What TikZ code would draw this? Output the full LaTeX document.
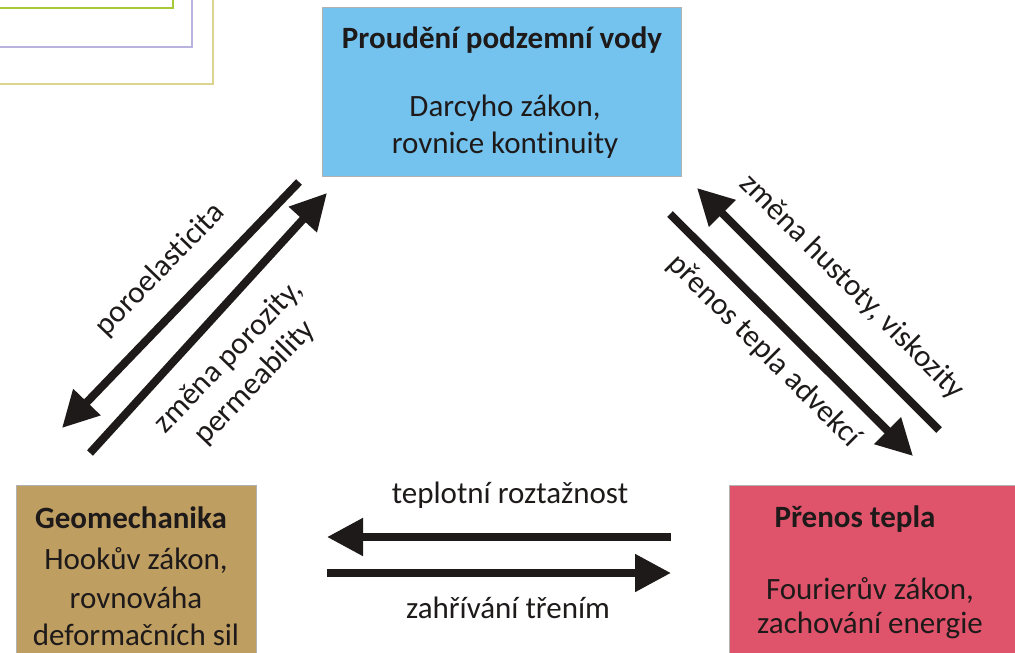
\documentclass[tikz,border=0pt]{standalone}
\usepackage{fontspec}
\setmainfont{Carlito}[Ligatures=NoCommon]
\usetikzlibrary{arrows.meta}
\definecolor{cblue}{HTML}{74C3EF}
\definecolor{cgeo}{HTML}{BF9E62}
\definecolor{cheat}{HTML}{E0546B}
\definecolor{cgreen}{HTML}{A8C83C}
\definecolor{cpurple}{HTML}{B8B2DE}
\definecolor{cyellow}{HTML}{DCD48E}
\definecolor{ink}{HTML}{1E1A1A}
\tikzset{
  box/.style={draw=black!30, line width=0.6pt, anchor=north west, inner sep=0pt},
  txt/.style={text=ink, font=\fontsize{31}{37}\selectfont, inner sep=0pt},
  ttl/.style={txt, font=\fontsize{31}{37}\selectfont\bfseries},
  lab/.style={text=ink, font=\fontsize{31}{37}\selectfont, inner sep=0pt, align=center},
  bigarrow/.style={line width=8pt, draw=ink, -{Triangle[length=36pt,width=36pt]}},
  frame/.style={line width=2pt}
}
\begin{document}
\begin{tikzpicture}[x=1pt,y=-1pt]
\useasboundingbox (0,0) rectangle (1015,653);
\fill[white] (0,0) rectangle (1015,653);
% partial frames top-left
\draw[frame, cgreen] (0,8) -- (173,8) -- (173,-2);
\draw[frame, cpurple] (0,47) -- (192,47) -- (192,-2);
\draw[frame, cyellow] (0,84) -- (213,84) -- (213,-2);
% boxes
\node[box, fill=cblue, minimum width=359pt, minimum height=169pt] (voda) at (322,7) {};
\node[box, fill=cgeo, minimum width=240pt, minimum height=175pt] (geo) at (16,485) {};
\node[box, fill=cheat, minimum width=290pt, minimum height=175pt] (teplo) at (729,485) {};
% box texts
\node[ttl] (vodaT) at (502,40) {Proudění podzemní vody};
\node[txt] (vodaA) at (505,108) {Darcyho zákon,};
\node[txt] (vodaB) at (505,145) {rovnice kontinuity};
\node[ttl] (geoT) at (131,518) {Geomechanika};
\node[txt] (geoA) at (136,560) {Hookův zákon,};
\node[txt] (geoB) at (136,598) {rovnováha};
\node[txt] (geoC) at (136,635) {deformačních sil};
\node[ttl] (teploT) at (855,519) {Přenos tepla};
\node[txt] (teploA) at (870,590) {Fourierův zákon,};
\node[txt] (teploB) at (870,625) {zachování energie};
% arrow endpoints
\coordinate (a1s) at (299,182);
\coordinate (a1e) at (62,428);
\coordinate (a2s) at (90,453);
\coordinate (a2e) at (327,193);
\coordinate (a3s) at (939,430);
\coordinate (a3e) at (697,188);
\coordinate (a4s) at (670,214);
\coordinate (a4e) at (913,456);
\coordinate (a5s) at (671,537);
\coordinate (a5e) at (327,537);
\coordinate (a6s) at (327,573);
\coordinate (a6e) at (671,573);
\draw[bigarrow] (a1s) -- (a1e);
\draw[bigarrow] (a2s) -- (a2e);
\draw[bigarrow] (a3s) -- (a3e);
\draw[bigarrow] (a4s) -- (a4e);
\draw[bigarrow] (a5s) -- (a5e);
\draw[bigarrow] (a6s) -- (a6e);
% labels
\node[lab, rotate=46] (l1) at (160,270) {poroelasticita};
\node[lab, rotate=46] (l2) at (242,370) {změna porozity,\\permeability};
\node[lab, rotate=-45] (l3) at (852,287) {změna hustoty, viskozity};
\node[lab, rotate=-45] (l4) at (764,351) {přenos tepla advekcí};
\node[lab] (l5) at (510,495) {teplotní roztažnost};
\node[lab] (l6) at (508,608) {zahřívání třením};
\end{tikzpicture}
\end{document}
